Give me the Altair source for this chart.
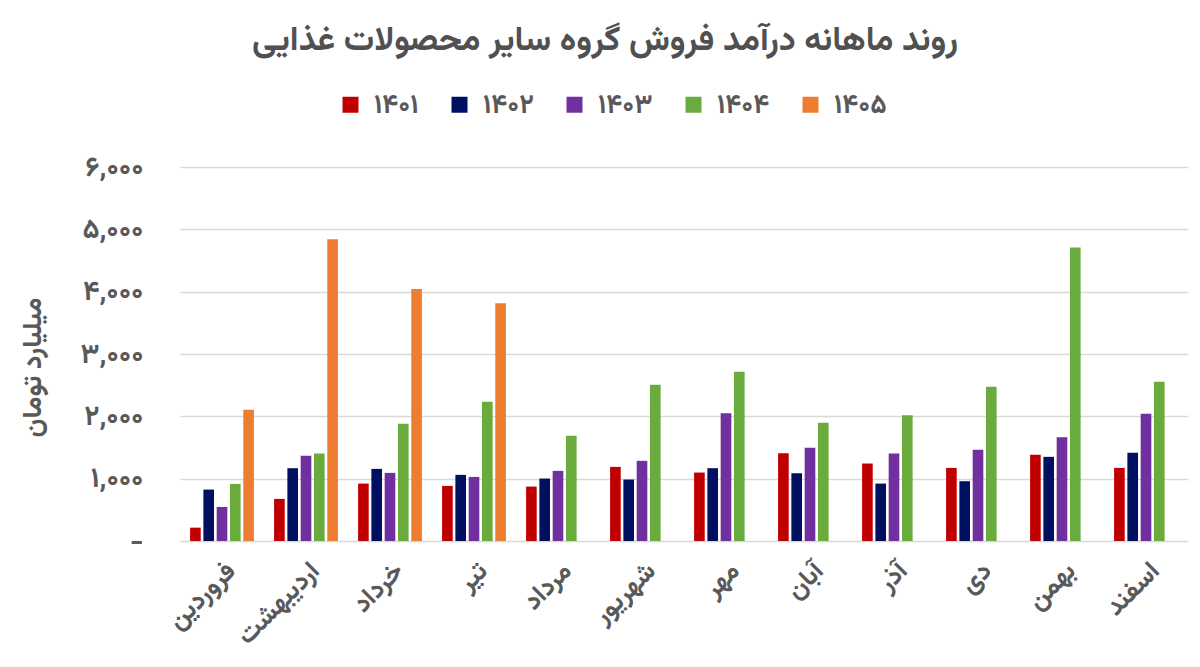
import altair as alt
import pandas as pd

months = ["فروردین", "اردیبهشت", "خرداد", "تیر", "مرداد", "شهریور",
          "مهر", "آبان", "آذر", "دی", "بهمن", "اسفند"]
years = ["۱۴۰۱", "۱۴۰۲", "۱۴۰۳", "۱۴۰۴", "۱۴۰۵"]
v1401 = [214, 675, 921, 884, 873, 1189, 1098, 1409, 1243, 1173, 1382, 1173]
v1402 = [825, 1168, 1157, 1061, 1002, 986, 1168, 1087, 921, 959, 1350, 1414]
v1403 = [546, 1366, 1093, 1028, 1125, 1286, 2051, 1494, 1403, 1462, 1666, 2041]
v1404 = [916, 1403, 1880, 2234, 1687, 2507, 2716, 1896, 2019, 2475, 4708, 2555]
v1405 = [2105, 4842, 4044, 3814, None, None, None, None, None, None, None, None]
colors = ["#C00000", "#001060", "#7030A0", "#6AAB3E", "#ED7D31"]
ytick_values = [0, 1000, 2000, 3000, 4000, 5000, 6000]
ytick_labels = ["-\u00a0\u00a0", "۱,۰۰۰", "۲,۰۰۰", "۳,۰۰۰", "۴,۰۰۰", "۵,۰۰۰", "۶,۰۰۰"]

title_text = "روند ماهانه درآمد فروش گروه سایر محصولات غذایی"
y_title = "میلیارد تومان"

rows = []
for yr, series in zip(years, [v1401, v1402, v1403, v1404, v1405]):
    for m, v in zip(months, series):
        if v is not None:
            rows.append({"month": m, "year": yr, "value": v})
df = pd.DataFrame(rows)

FONT = "Vazirmatn, 'Noto Sans Arabic', 'DejaVu Sans', sans-serif"
GRAY = "#595959"

label_expr = "[" + ",".join("'" + s + "'" for s in ytick_labels) + "][round(datum.value/1000)]"

chart = alt.Chart(df).mark_bar().encode(
    x=alt.X("month:N", sort=months,
            scale=alt.Scale(paddingInner=0.24, paddingOuter=0.12),
            axis=alt.Axis(title=None, labelAngle=-45, labelFontSize=26, labelFontWeight="bold",
                          labelColor=GRAY, labelFont=FONT, labelPadding=16, ticks=False,
                          domain=False, grid=False, labelLimit=300)),
    xOffset=alt.XOffset("year:N", sort=years, scale=alt.Scale(paddingInner=0.2)),
    y=alt.Y("value:Q", scale=alt.Scale(domain=[0, 6000], nice=False),
            axis=alt.Axis(values=ytick_values, labelExpr=label_expr, title=y_title,
                          titleFont=FONT, titleFontSize=27, titleFontWeight="bold", titleColor=GRAY,
                          titleX=-134, titleY=200,
                          labelFont=FONT, labelFontSize=28, labelFontWeight="bold", labelColor=GRAY,
                          labelPadding=37, ticks=False, domain=False,
                          grid=True, gridColor="#d9d9d9", gridWidth=1.5)),
    color=alt.Color("year:N", sort=years, scale=alt.Scale(domain=years, range=colors),
                    legend=alt.Legend(title=None, orient="none", direction="horizontal",
                                      legendX=157, legendY=-76,
                                      symbolType="square", symbolSize=256, symbolStrokeWidth=0,
                                      labelFont=FONT, labelFontSize=27, labelFontWeight="bold",
                                      labelColor=GRAY, labelOffset=10, columnPadding=27)),
).properties(
    width=1008, height=374,
    title=alt.TitleParams(title_text, font=FONT, fontSize=34, fontWeight="bold",
                          color="#505050", anchor="middle", dx=-79, dy=-30),
    autosize=alt.AutoSizeParams(type="none"),
    padding={"left": 172, "top": 159, "right": 4, "bottom": 118},
).configure_view(stroke=None)

chart.save("out.html", embed_options={"renderer": "svg", "actions": False})
